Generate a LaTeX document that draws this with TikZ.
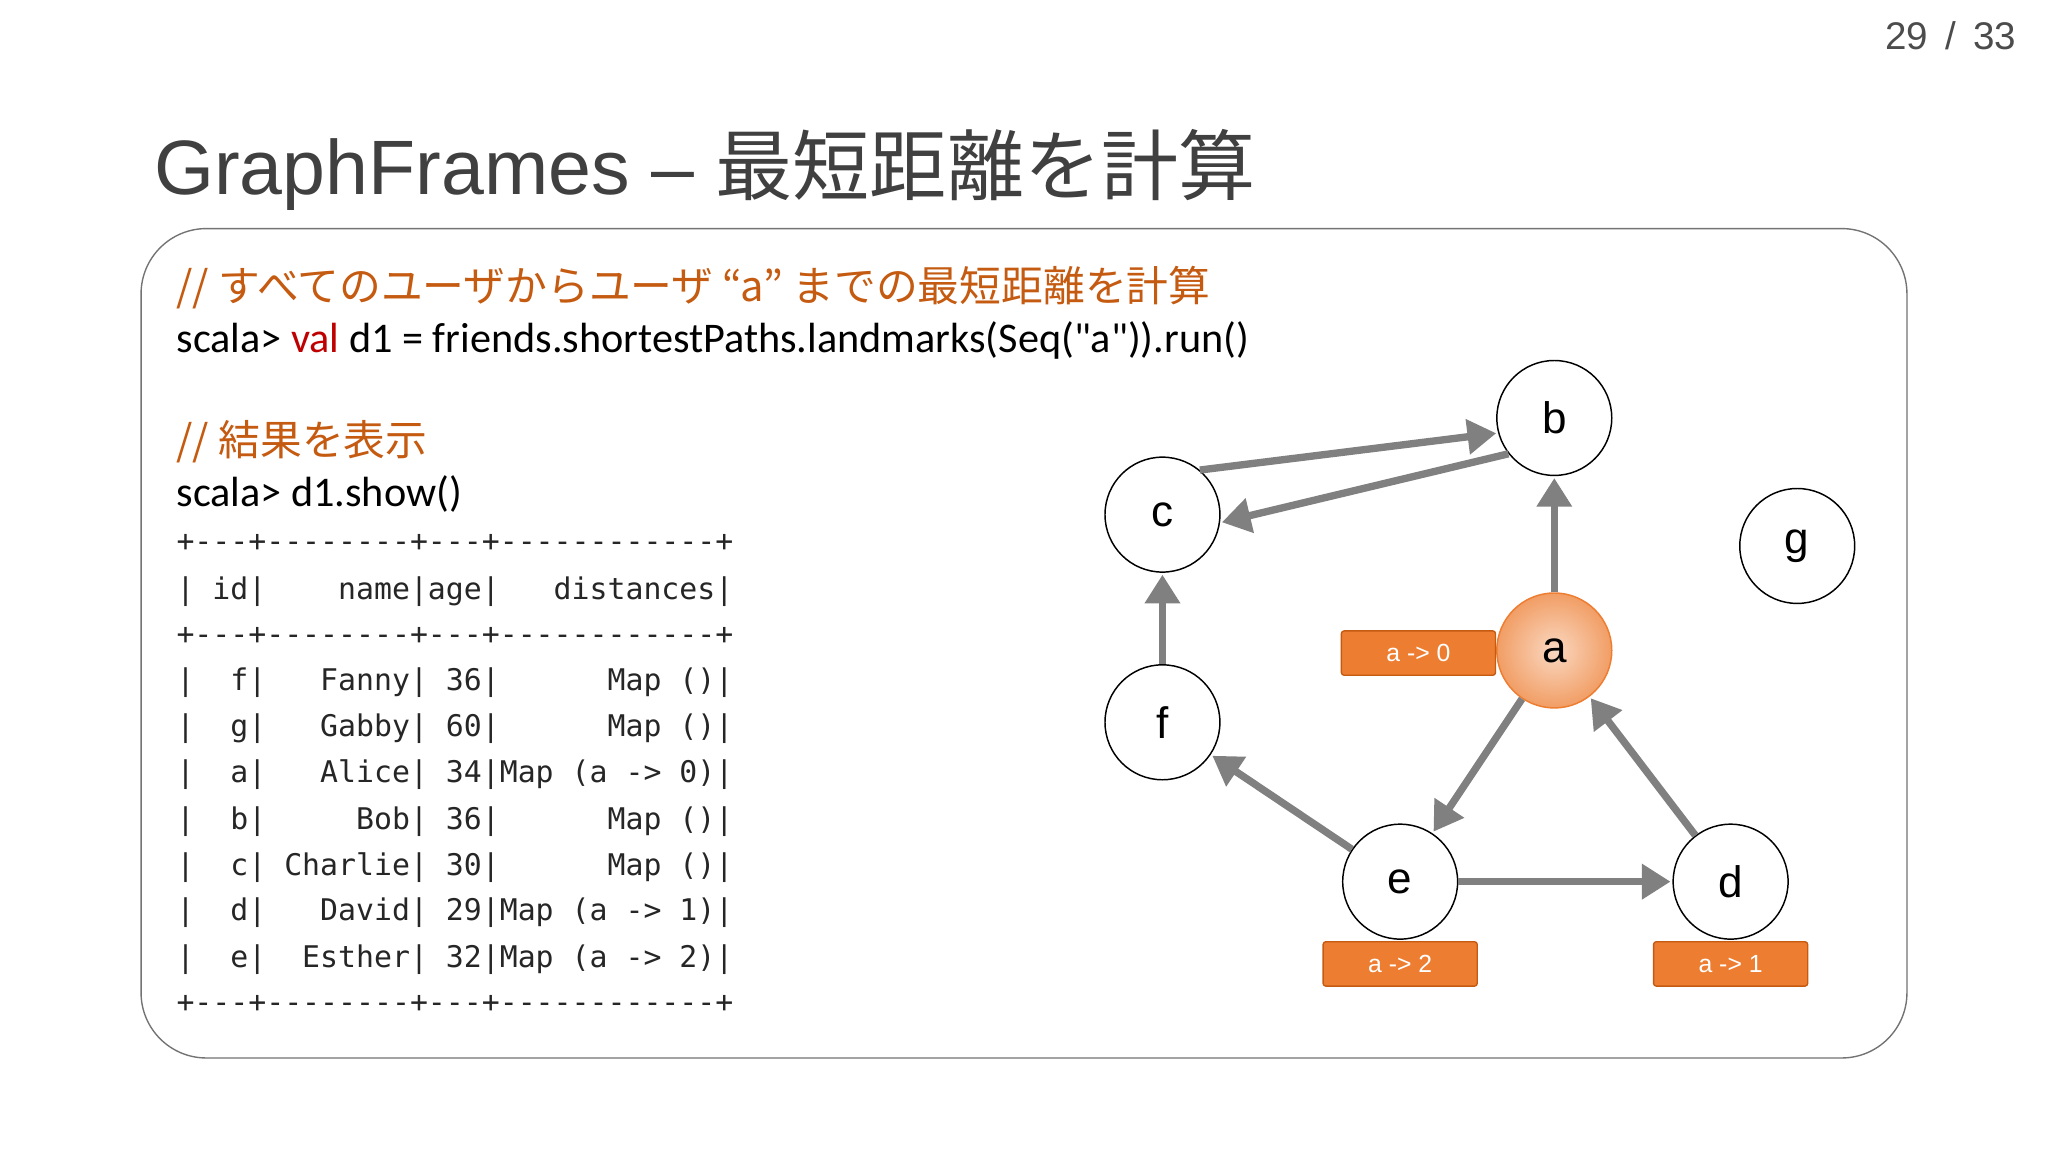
\documentclass[tikz,border=0pt]{standalone}
\usepackage{fontspec}
\setmainfont{Liberation Sans}
\newfontfamily\cjk{Noto Sans CJK JP}
\newfontfamily\carl{Carlito}
\newfontfamily\mono{DejaVu Sans Mono}
\usetikzlibrary{arrows.meta}
\definecolor{og}{HTML}{ED7D31}
\definecolor{cm}{HTML}{C55A11}
\definecolor{eg}{HTML}{808080}
\begin{document}
\begin{tikzpicture}[x=0.05cm,y=-0.05cm,
 vx/.style={circle,draw=black,line width=1.6pt,minimum size=4.4cm,inner sep=0pt,font=\fontsize{48}{50}\selectfont,fill=white},
 lab/.style={draw=cm,fill=og,line width=1.5pt,rounded corners=3pt,minimum width=5.9cm,minimum height=1.7cm,text=white,font=\fontsize{27}{30}\selectfont},
 ed/.style={draw=eg,line width=8pt,-{Triangle[length=1.1cm,width=1.3cm]},shorten >=2pt},
 tb/.style={anchor=west,inner sep=0pt,font=\mono\fontsize{32.5}{34}\selectfont,text=black!85}]
\useasboundingbox (0,0) rectangle (1568,882);
\fill[white] (0,0) rectangle (1568,882);
\node[anchor=east,text=black!70,font=\fontsize{42}{44}\selectfont] (pg) at (1546,27) {29 \,/\, 33};
\node[anchor=west,inner sep=0pt,text=black!75,font=\fontsize{84}{90}\selectfont] (title) at (118,130) {GraphFrames – {\cjk 最短距離を計算}};
\draw[black!55,line width=1.5pt,rounded corners=2.5cm] (108,175) rectangle (1460,810);
\node[anchor=west,inner sep=0pt,text=cm,font=\cjk\fontsize{45.5}{48}\selectfont] (c1) at (135,220) {// すべてのユーザからユーザ “a” までの最短距離を計算};
\node[anchor=west,inner sep=0pt,font=\carl\fontsize{46}{48}\selectfont] (s1) at (135,261) {scala> \textcolor{red!75!black}{val} d1 = friends.shortestPaths.landmarks(Seq("a")).run()};
\node[anchor=west,inner sep=0pt,text=cm,font=\cjk\fontsize{45.5}{48}\selectfont] (c2) at (135,338) {// 結果を表示};
\node[anchor=west,inner sep=0pt,font=\carl\fontsize{46}{48}\selectfont] (s2) at (135,378) {scala> d1.show()};
\node[tb] (t1) at (135,416) {+---+--------+---+------------+};
\node[tb] (t2) at (135,453) {|~id|~~~~name|age|~~~distances|};
\node[tb] (t3) at (135,487) {+---+--------+---+------------+};
\node[tb] (t4) at (135,523) {|~~f|~~~Fanny|~36|~~~~~~Map~()|};
\node[tb] (t5) at (135,558) {|~~g|~~~Gabby|~60|~~~~~~Map~()|};
\node[tb] (t6) at (135,593) {|~~a|~~~Alice|~34|Map~(a~->~0)|};
\node[tb] (t7) at (135,629) {|~~b|~~~~~Bob|~36|~~~~~~Map~()|};
\node[tb] (t8) at (135,664) {|~~c|~Charlie|~30|~~~~~~Map~()|};
\node[tb] (t9) at (135,699) {|~~d|~~~David|~29|Map~(a~->~1)|};
\node[tb] (t10) at (135,735) {|~~e|~~Esther|~32|Map~(a~->~2)|};
\node[tb] (t11) at (135,769) {+---+--------+---+------------+};
\node[vx] (b) at (1190,320) {b};
\node[vx] (c) at (890,394) {c};
\node[vx] (g) at (1376,418) {g};
\node[vx,draw=og,inner color=og!30,outer color=og!75] (a) at (1190,498) {a};
\node[vx] (f) at (890,553) {f};
\node[vx] (e) at (1072,675) {e};
\node[vx] (d) at (1325,675) {d};
\node[lab] (la) at (1086,500) {a -> 0};
\node[lab] (le) at (1072,738) {a -> 2};
\node[lab] (ld) at (1325,738) {a -> 1};
\draw[ed] (c.50) -- (b.195);
\draw[ed] (b.218) -- (c.352);
\draw[ed] (a) -- (b);
\draw[ed] (f) -- (c);
\draw[ed] (a) -- (e);
\draw[ed] (e) -- (f);
\draw[ed] (e) -- (d);
\draw[ed] (d) -- (a);
\end{tikzpicture}
\end{document}
